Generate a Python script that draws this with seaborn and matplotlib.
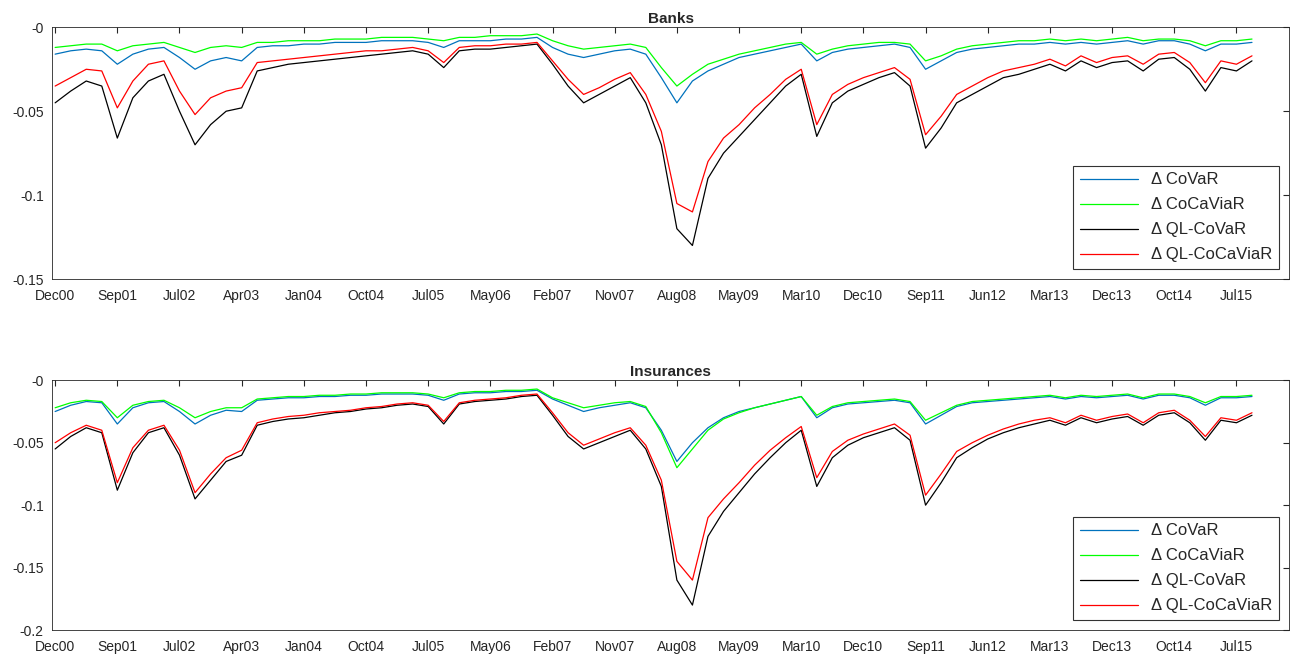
import numpy as np
import pandas as pd
import matplotlib
matplotlib.use('Agg')
import matplotlib.pyplot as plt
import seaborn as sns

# x in tick units (one tick = Dec00, Sep01, ... ), step 0.25
TICK_LABELS = ['Dec00', 'Sep01', 'Jul02', 'Apr03', 'Jan04', 'Oct04', 'Jul05', 'May06', 'Feb07', 'Nov07',
               'Aug08', 'May09', 'Mar10', 'Dec10', 'Sep11', 'Jun12', 'Mar13', 'Dec13', 'Oct14', 'Jul15']
x_pos = [i * 0.25 for i in range(78)]

# ---------------- Banks ----------------
banks_covar = [
    -.016, -.014, -.013, -.014,
    -.022, -.016, -.013, -.012,
    -.018, -.025, -.020, -.018,
    -.020, -.012, -.011, -.011,
    -.010, -.010, -.009, -.009,
    -.009, -.008, -.008, -.008,
    -.009, -.012, -.008, -.008,
    -.008, -.007, -.007, -.006,
    -.012, -.016, -.018, -.016,
    -.014, -.013, -.016, -.030,
    -.045, -.032, -.026, -.022,
    -.018, -.016, -.014, -.012,
    -.010, -.020, -.015, -.013,
    -.012, -.011, -.010, -.012,
    -.025, -.020, -.015, -.013,
    -.012, -.011, -.010, -.010,
    -.009, -.010, -.009, -.010,
    -.009, -.008, -.010, -.008,
    -.008, -.010, -.014, -.010,
    -.010, -.009]
banks_cocaviar = [
    -.012, -.011, -.010, -.010,
    -.014, -.011, -.010, -.009,
    -.012, -.015, -.012, -.011,
    -.012, -.009, -.009, -.008,
    -.008, -.008, -.007, -.007,
    -.007, -.006, -.006, -.006,
    -.007, -.008, -.006, -.006,
    -.005, -.005, -.005, -.004,
    -.008, -.011, -.013, -.012,
    -.011, -.010, -.012, -.024,
    -.035, -.028, -.022, -.019,
    -.016, -.014, -.012, -.010,
    -.009, -.016, -.013, -.011,
    -.010, -.009, -.009, -.010,
    -.020, -.017, -.013, -.011,
    -.010, -.009, -.008, -.008,
    -.007, -.008, -.007, -.008,
    -.007, -.006, -.008, -.007,
    -.007, -.008, -.011, -.008,
    -.008, -.007]
banks_ql_covar = [
    -.045, -.038, -.032, -.035,
    -.066, -.042, -.032, -.028,
    -.050, -.070, -.058, -.050,
    -.048, -.026, -.024, -.022,
    -.021, -.020, -.019, -.018,
    -.017, -.016, -.015, -.014,
    -.016, -.024, -.014, -.013,
    -.013, -.012, -.011, -.010,
    -.022, -.035, -.045, -.040,
    -.035, -.030, -.045, -.070,
    -.120, -.130, -.090, -.075,
    -.065, -.055, -.045, -.035,
    -.028, -.065, -.045, -.038,
    -.034, -.030, -.027, -.035,
    -.072, -.060, -.045, -.040,
    -.035, -.030, -.028, -.025,
    -.022, -.026, -.020, -.024,
    -.021, -.020, -.026, -.019,
    -.018, -.025, -.038, -.024,
    -.026, -.020]
banks_ql_cocaviar = [
    -.035, -.030, -.025, -.026,
    -.048, -.032, -.022, -.020,
    -.038, -.052, -.042, -.038,
    -.036, -.021, -.020, -.019,
    -.018, -.017, -.016, -.015,
    -.014, -.014, -.013, -.012,
    -.014, -.021, -.012, -.011,
    -.011, -.010, -.010, -.009,
    -.020, -.031, -.040, -.036,
    -.031, -.027, -.040, -.062,
    -.105, -.110, -.080, -.066,
    -.058, -.048, -.040, -.031,
    -.025, -.058, -.040, -.034,
    -.030, -.027, -.024, -.031,
    -.064, -.053, -.040, -.035,
    -.030, -.026, -.024, -.022,
    -.019, -.023, -.017, -.021,
    -.018, -.017, -.022, -.016,
    -.015, -.021, -.033, -.020,
    -.022, -.017]

# ---------------- Insurances ----------------
ins_covar = [
    -.025, -.020, -.017, -.018,
    -.035, -.022, -.018, -.017,
    -.025, -.035, -.028, -.024,
    -.025, -.016, -.015, -.014,
    -.014, -.013, -.013, -.012,
    -.012, -.011, -.011, -.011,
    -.012, -.016, -.011, -.010,
    -.010, -.009, -.009, -.008,
    -.015, -.020, -.025, -.022,
    -.020, -.018, -.022, -.040,
    -.065, -.050, -.038, -.030,
    -.025, -.022, -.019, -.016,
    -.013, -.030, -.022, -.019,
    -.018, -.017, -.016, -.018,
    -.035, -.028, -.021, -.018,
    -.017, -.016, -.015, -.014,
    -.013, -.015, -.013, -.014,
    -.013, -.012, -.015, -.012,
    -.012, -.014, -.020, -.014,
    -.014, -.013]
ins_cocaviar = [
    -.022, -.018, -.016, -.017,
    -.030, -.020, -.017, -.016,
    -.022, -.030, -.025, -.022,
    -.022, -.015, -.014, -.013,
    -.013, -.012, -.012, -.011,
    -.011, -.010, -.010, -.010,
    -.011, -.014, -.010, -.009,
    -.009, -.008, -.008, -.007,
    -.014, -.018, -.022, -.020,
    -.018, -.017, -.021, -.042,
    -.070, -.055, -.040, -.031,
    -.026, -.022, -.019, -.016,
    -.013, -.028, -.021, -.018,
    -.017, -.016, -.015, -.017,
    -.032, -.026, -.020, -.017,
    -.016, -.015, -.014, -.013,
    -.012, -.014, -.012, -.013,
    -.012, -.011, -.014, -.011,
    -.011, -.013, -.018, -.013,
    -.013, -.012]
ins_ql_covar = [
    -.055, -.045, -.038, -.042,
    -.088, -.058, -.042, -.038,
    -.060, -.095, -.080, -.065,
    -.060, -.036, -.033, -.031,
    -.030, -.028, -.026, -.025,
    -.023, -.022, -.020, -.019,
    -.021, -.035, -.019, -.017,
    -.016, -.015, -.013, -.012,
    -.028, -.045, -.055, -.050,
    -.045, -.040, -.055, -.085,
    -.160, -.180, -.125, -.105,
    -.090, -.075, -.062, -.050,
    -.040, -.085, -.062, -.052,
    -.046, -.042, -.038, -.048,
    -.100, -.082, -.062, -.054,
    -.047, -.042, -.038, -.035,
    -.032, -.036, -.030, -.034,
    -.031, -.029, -.036, -.028,
    -.026, -.034, -.048, -.032,
    -.034, -.028]
ins_ql_cocaviar = [
    -.050, -.042, -.036, -.040,
    -.082, -.054, -.040, -.036,
    -.056, -.090, -.075, -.062,
    -.056, -.034, -.031, -.029,
    -.028, -.026, -.025, -.024,
    -.022, -.021, -.019, -.018,
    -.020, -.033, -.018, -.016,
    -.015, -.014, -.012, -.011,
    -.026, -.042, -.052, -.047,
    -.042, -.038, -.052, -.080,
    -.145, -.160, -.110, -.095,
    -.082, -.068, -.056, -.046,
    -.037, -.078, -.057, -.048,
    -.043, -.039, -.035, -.044,
    -.092, -.075, -.057, -.050,
    -.044, -.039, -.035, -.032,
    -.030, -.034, -.028, -.032,
    -.029, -.027, -.034, -.026,
    -.024, -.032, -.045, -.030,
    -.032, -.026]

SERIES = ['\u0394 CoVaR', '\u0394 CoCaViaR', '\u0394 QL-CoVaR', '\u0394 QL-CoCaViaR']
COLORS = ['#0072BD', '#00FF00', '#000000', '#FF0000']

sns.set_style('white')
plt.rcParams['font.family'] = ['Liberation Sans', 'DejaVu Sans']

fig = plt.figure(figsize=(13.01, 6.66), dpi=100)
ax1 = fig.add_axes([0.040, 0.581, 0.951, 0.378])
ax2 = fig.add_axes([0.040, 0.054, 0.951, 0.375])

panels = [
    (ax1, 'Banks', [banks_covar, banks_cocaviar, banks_ql_covar, banks_ql_cocaviar],
     [-0.15, -0.1, -0.05, 0], ['-0.15', '-0.1', '-0.05', '-0']),
    (ax2, 'Insurances', [ins_covar, ins_cocaviar, ins_ql_covar, ins_ql_cocaviar],
     [-0.2, -0.15, -0.1, -0.05, 0], ['-0.2', '-0.15', '-0.1', '-0.05', '-0']),
]

for ax, title, data, yt, ytl in panels:
    df = pd.DataFrame({'x': x_pos * 4,
                       'y': np.concatenate(data),
                       'series': np.repeat(SERIES, len(x_pos))})
    sns.lineplot(data=df, x='x', y='y', hue='series', palette=COLORS, hue_order=SERIES,
                 linewidth=0.9, ax=ax, estimator=None)
    ax.set_xlim(-0.05, 19.85)
    ax.set_ylim(yt[0], 0)
    ax.set_xticks(range(len(TICK_LABELS)))
    ax.set_xticklabels(TICK_LABELS, fontsize=10)
    ax.set_yticks(yt)
    ax.set_yticklabels(ytl, fontsize=10)
    ax.tick_params(direction='in', length=4, top=True, right=True)
    ax.tick_params(axis='x', pad=7)
    ax.tick_params(axis='y', pad=6)
    ax.set_xlabel('')
    ax.set_ylabel('')
    ax.set_title(title, fontsize=11, fontweight='bold', pad=3)
    for s in ax.spines.values():
        s.set_color('#262626')
        s.set_linewidth(0.6)
    leg = ax.legend(loc='lower right', fontsize=12, frameon=True, fancybox=False,
                    edgecolor='black', handlelength=3.5, labelspacing=0.6,
                    borderaxespad=0.6)
    leg.get_frame().set_linewidth(0.8)

fig.savefig('out.png', dpi=100)
